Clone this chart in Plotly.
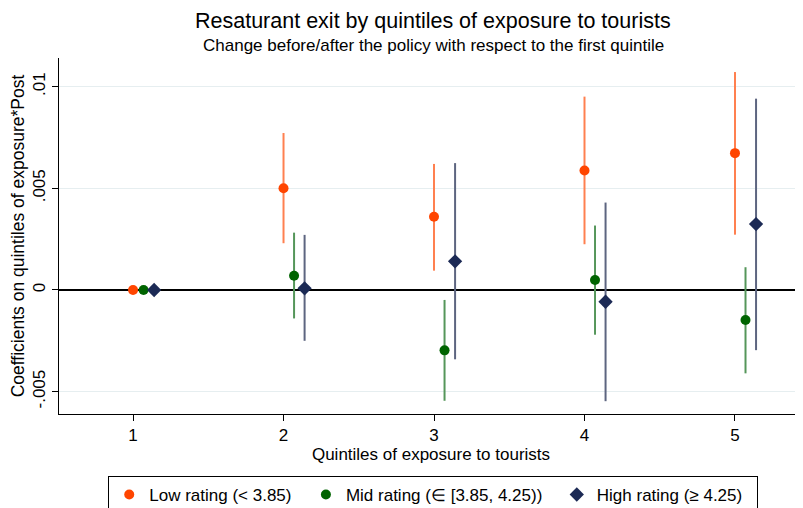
import plotly.graph_objects as go

quintiles = [1, 2, 3, 4, 5]

low_coef = [0, 0.0050, 0.0036, 0.00588, 0.00673]
low_hi = [0, 0.00772, 0.0062, 0.00951, 0.01072]
low_lo = [0, 0.0023, 0.00095, 0.00225, 0.00272]

mid_coef = [0, 0.0007, -0.00297, 0.00049, -0.00148]
mid_hi = [0, 0.00282, -0.00049, 0.00317, 0.00112]
mid_lo = [0, -0.0014, -0.00545, -0.0022, -0.0041]

high_coef = [0, 0.00008, 0.00141, -0.00058, 0.00324]
high_hi = [0, 0.00271, 0.00624, 0.0043, 0.00941]
high_lo = [0, -0.0025, -0.00341, -0.00547, -0.00296]

y_ticks = [-0.005, 0, 0.005, 0.01]
y_ticktext = ["-.005", "0", ".005", ".01"]

FONT = "Liberation Sans, Arial, sans-serif"
PAD = "\u00a0\u00a0"  # a little extra room between legend entries


def add_series(fig, offset, coef, hi, lo, name, color, ci_color, symbol, size):
    fig.add_trace(go.Scatter(
        x=[q + offset for q in quintiles], y=coef, mode="markers", name=name + PAD,
        marker=dict(color=color, symbol=symbol, size=size, line=dict(width=0)),
        error_y=dict(
            type="data", symmetric=False,
            array=[h - c for h, c in zip(hi, coef)],
            arrayminus=[c - l for c, l in zip(coef, lo)],
            color=ci_color, thickness=2, width=0,
        ),
    ))


fig = go.Figure()
add_series(fig, 0.0, low_coef, low_hi, low_lo, "Low rating (< 3.85)",
           "#ff4500", "#ff8050", "circle", 10)
add_series(fig, 0.07, mid_coef, mid_hi, mid_lo, "Mid rating (\u2208 [3.85, 4.25))",
           "#006400", "#55965a", "circle", 10)
add_series(fig, 0.14, high_coef, high_hi, high_lo, "High rating (\u2265 4.25)",
           "#1c2a55", "#5d6580", "diamond", 11)

# the page body has an 8px margin, so the figure is drawn 8px in from the corner
fig.update_layout(
    width=795, height=500,
    margin=dict(l=51, r=0, t=50, b=94, autoexpand=False),
    paper_bgcolor="white", plot_bgcolor="white",
    font=dict(family=FONT, size=15, color="black"),
    annotations=[
        dict(text="Resaturant exit by quintiles of exposure to tourists",
             xref="paper", yref="paper", x=0.503, y=1.104,
             xanchor="center", yanchor="middle", showarrow=False,
             font=dict(size=21.5)),
        dict(text="Change before/after the policy with respect to the first quintile",
             xref="paper", yref="paper", x=0.503, y=1.035,
             xanchor="center", yanchor="middle", showarrow=False,
             font=dict(size=17)),
    ],
    xaxis=dict(
        range=[0.508, 5.452], tickvals=quintiles, ticks="outside", ticklen=6,
        tickcolor="black", showline=True, linecolor="black", linewidth=1,
        showgrid=False, zeroline=False, automargin=False,
        tickfont=dict(size=17),
        title=dict(text="Quintiles of exposure to tourists", standoff=0,
                   font=dict(size=17)),
    ),
    yaxis=dict(
        range=[-0.0061, 0.01141], tickvals=y_ticks, ticktext=y_ticktext,
        tickangle=-90, ticks="outside", ticklen=6, tickcolor="black",
        showline=True, linecolor="black", linewidth=1,
        showgrid=True, gridcolor="#e6eef0", gridwidth=1,
        zeroline=True, zerolinecolor="black", zerolinewidth=2,
        automargin=False, tickfont=dict(size=17),
        title=dict(text="Coefficients on quintiles of exposure*Post", standoff=2,
                   font=dict(size=17.5)),
    ),
    showlegend=True,
    legend=dict(orientation="h", x=0.503, xanchor="center", y=-0.174, yanchor="top",
                bordercolor="black", borderwidth=1, font=dict(size=17),
                itemwidth=30, itemclick=False),
)

fig.write_html("out.html")
